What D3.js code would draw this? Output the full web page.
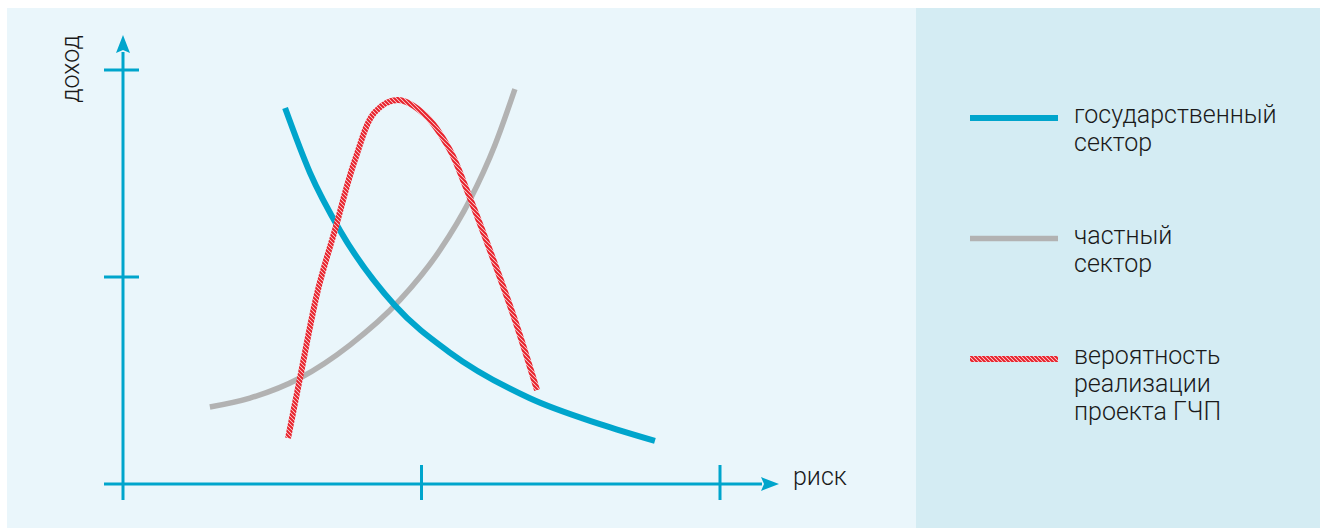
<!DOCTYPE html>
<html>
<head>
<meta charset="utf-8">
<script src="https://cdn.jsdelivr.net/npm/d3@7"></script>
<style>
  body{margin:0;background:#fff;}
  svg{display:block;}
  text{font-family:Roboto,"Noto Sans",sans-serif;font-weight:300;fill:#1a1a1a;}
</style>
</head>
<body>
<svg id="chart" width="1320" height="528"></svg>
<script>
// curves, in axis units (x: 0..2, y: 0..2)
const stateSector=[[0.543,1.816],[0.626,1.505],[0.727,1.225],[0.911,0.862],[1.095,0.635],[1.363,0.414],[1.598,0.289],[1.782,0.208]];
const privateSector=[[0.291,0.372],[0.425,0.415],[0.593,0.512],[0.760,0.671],[0.928,0.889],[1.062,1.130],[1.162,1.372],[1.246,1.638],[1.313,1.908]];
const pppChance=[[0.553,0.222],[0.593,0.512],[0.653,0.937],[0.710,1.227],[0.777,1.565],[0.844,1.797],[0.921,1.855],[1.012,1.783],[1.095,1.614],[1.152,1.420],[1.229,1.130],[1.313,0.792],[1.387,0.454]];
const xTicks=[1,2];
const yTicks=[1,2];
const legendItems=[
  {key:"state",lines:["государственный","сектор"]},
  {key:"private",lines:["частный","сектор"]},
  {key:"ppp",lines:["вероятность","реализации","проекта ГЧП"]}
];

const blue="#00a5cc",grey="#b2b2b2",red="#e8202a";
const svg=d3.select("#chart");

svg.append("rect").attr("x",7).attr("y",8).attr("width",909).attr("height",520).attr("fill","#eaf6fb");
svg.append("rect").attr("x",916).attr("y",8).attr("width",404).attr("height",520).attr("fill","#d4ecf3");

let x=d3.scaleLinear().domain([0,2]).range([123,720]);
let y=d3.scaleLinear().domain([0,2]).range([484,70]);

let defs=svg.append("defs");
defs.append("marker")
  .attr("id","arrow")
  .attr("viewBox","0 0 18 14")
  .attr("refX",1).attr("refY",7)
  .attr("markerWidth",18).attr("markerHeight",14)
  .attr("markerUnits","userSpaceOnUse")
  .attr("orient","auto")
  .append("path").attr("d","M0,0L18,7L0,14L3,7Z").attr("fill",blue);
let hatch=defs.append("pattern")
  .attr("id","hatch")
  .attr("patternUnits","userSpaceOnUse")
  .attr("width",4).attr("height",4);
hatch.append("rect").attr("width",4).attr("height",4).attr("fill","#fbe3e4");
hatch.append("path").attr("d","M-1,3L1,5M0,0L4,4M3,-1L5,1").attr("stroke",red).attr("stroke-width",2);

// axes
let axes=svg.append("g").attr("stroke",blue).attr("stroke-width",3).attr("fill","none");
axes.append("line").attr("x1",x(0)).attr("y1",500).attr("x2",x(0)).attr("y2",52).attr("marker-end","url(#arrow)");
axes.append("line").attr("x1",104).attr("y1",y(0)).attr("x2",762).attr("y2",y(0)).attr("marker-end","url(#arrow)");
axes.selectAll(".xt").data(xTicks).enter().append("line")
  .attr("x1",(d)=>x(d)).attr("x2",(d)=>x(d)).attr("y1",y(0)-19).attr("y2",y(0)+16);
axes.selectAll(".yt").data(yTicks).enter().append("line")
  .attr("y1",(d)=>y(d)).attr("y2",(d)=>y(d)).attr("x1",x(0)-19).attr("x2",x(0)+16);

svg.append("text").attr("transform","translate(79,69) rotate(-90)").attr("text-anchor","middle")
  .style("font-size","25px").text("доход");
svg.append("text").attr("x",793).attr("y",485).style("font-size","25px").text("риск");

let smooth=d3.line().x((d)=>x(d[0])).y((d)=>y(d[1])).curve(d3.curveMonotoneX);
let peaked=d3.line().x((d)=>x(d[0])).y((d)=>y(d[1])).curve(d3.curveCatmullRom.alpha(0.5));

let curves=svg.append("g").attr("fill","none");
curves.append("path").datum(privateSector).attr("d",smooth).attr("stroke",grey).attr("stroke-width",5.5);
curves.append("path").datum(stateSector).attr("d",smooth).attr("stroke",blue).attr("stroke-width",6);
curves.append("path").datum(pppChance).attr("d",peaked).attr("stroke","url(#hatch)").attr("stroke-width",6);

// legend
let strokes={state:[blue,6],private:[grey,5.5],ppp:["url(#hatch)",6]};
let legend=svg.selectAll(".legend").data(legendItems).enter().append("g")
  .attr("transform",(d,i)=>`translate(970,${118+i*120.5})`);
legend.append("line").attr("x1",0).attr("x2",88).attr("y1",0).attr("y2",0)
  .attr("stroke",(d)=>strokes[d.key][0]).attr("stroke-width",(d)=>strokes[d.key][1]);
legend.append("text").attr("x",104).attr("y",5).style("font-size","25px")
  .selectAll("tspan").data((d)=>d.lines).enter().append("tspan")
  .attr("x",104).attr("dy",(d,i)=>i?28:0).text((d)=>d);
</script>
</body>
</html>
